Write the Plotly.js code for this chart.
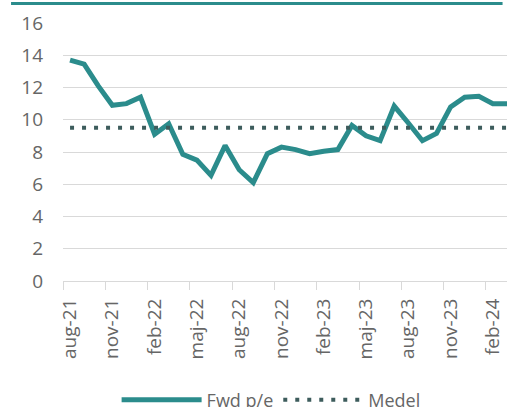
<!DOCTYPE html>
<html>
<head>
<meta charset="utf-8">
<script src="https://cdn.plot.ly/plotly-3.0.1.min.js"></script>
<style>
html,body{margin:0;padding:0;background:#fff;}
#chart{width:507px;height:407px;}
</style>
</head>
<body>
<div id="chart"></div>
<script>
// Data
const months = ["aug-21","sep-21","okt-21","nov-21","dec-21","jan-22","feb-22","mar-22","apr-22","maj-22","jun-22","jul-22",
  "aug-22","sep-22","okt-22","nov-22","dec-22","jan-23","feb-23","mar-23","apr-23","maj-23","jun-23","jul-23",
  "aug-23","sep-23","okt-23","nov-23","dec-23","jan-24","feb-24","mar-24"];
const fwdPE = [13.7,13.45,12.1,10.9,11.0,11.4,9.1,9.75,7.85,7.5,6.55,8.4,
  6.9,6.1,7.9,8.3,8.15,7.9,8.05,8.15,9.65,9.0,8.7,10.85,
  9.8,8.7,9.15,10.8,11.4,11.45,11.0,11.0];
const medelValue = 9.5;
const medel = months.map(() => medelValue);
const tickLabels = ["aug-21","nov-21","feb-22","maj-22","aug-22","nov-22","feb-23","maj-23","aug-23","nov-23","feb-24"];
const yTicks = [0,2,4,6,8,10,12,14,16];

const idx = months.map((m,i) => i);
const tickIdx = tickLabels.map(l => months.indexOf(l));
const boundaries = tickIdx.map(i => i - 0.5);

const teal = '#2b8c8c';
const dotColor = '#3d5c5c';
const gray = '#666666';
const grid = '#d9d9d9';
const fontFam = '"Open Sans", "DejaVu Sans", sans-serif';

const traces = [
  {x: idx, y: fwdPE, name: 'Fwd p/e', type: 'scatter', mode: 'lines',
   line: {color: teal, width: 5}, hoverinfo: 'skip'},
  {x: idx, y: medel, name: 'Medel', type: 'scatter', mode: 'lines',
   line: {color: dotColor, width: 4, dash: '4px,8px'}, hoverinfo: 'skip'}
];

const layout = {
  width: 507, height: 407,
  margin: {l: 63, r: 0, t: 22.7, b: 126},
  paper_bgcolor: '#fff', plot_bgcolor: '#fff',
  font: {family: fontFam, color: gray, size: 18},
  showlegend: true,
  legend: {orientation: 'h', xref: 'container', yref: 'container',
    x: 0.23, xanchor: 'left', y: 0.017, yanchor: 'middle',
    font: {family: fontFam, size: 18, color: gray}, itemwidth: 80,
    bgcolor: 'rgba(0,0,0,0)'},
  xaxis: {
    range: [-0.5, 31], showgrid: false, zeroline: false,
    showline: true, linecolor: grid, linewidth: 1,
    tickmode: 'array', tickvals: tickIdx, ticktext: tickLabels,
    ticks: 'outside', ticklen: 9, tickcolor: 'rgba(0,0,0,0)', tickangle: -90,
    tickfont: {family: fontFam, size: 19, color: gray},
    minor: {tickmode: 'array', tickvals: boundaries, ticks: 'outside', ticklen: 8, tickcolor: grid, tickwidth: 1, showgrid: false},
    fixedrange: true
  },
  yaxis: {
    range: [0, 16], tickmode: 'array', tickvals: yTicks,
    showgrid: true, gridcolor: grid, gridwidth: 1, zeroline: false,
    showline: false, ticks: '', ticklabelstandoff: 19,
    tickfont: {family: fontFam, size: 19, color: gray},
    fixedrange: true
  },
  shapes: [{type: 'line', xref: 'paper', yref: 'paper', x0: -0.117, x1: 0.99, y0: 1.0755, y1: 1.0755,
    line: {color: teal, width: 3}}]
};

Plotly.newPlot('chart', traces, layout, {staticPlot: true, displayModeBar: false});
</script>
</body>
</html>
